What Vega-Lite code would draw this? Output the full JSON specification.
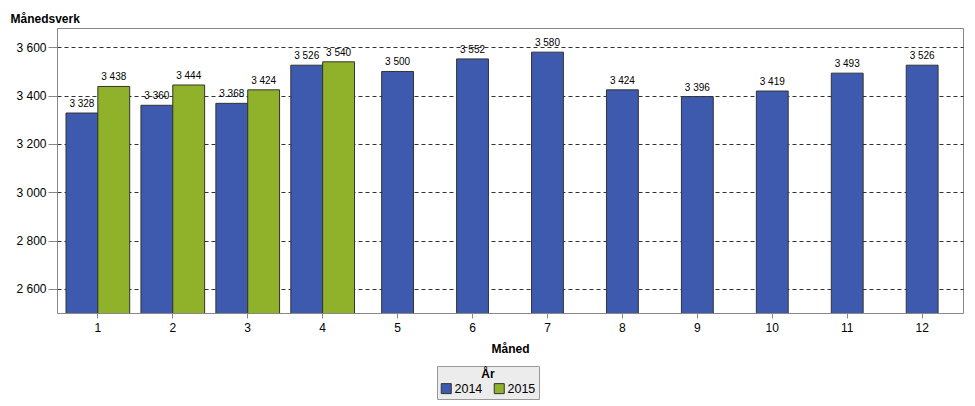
{
  "$schema": "https://vega.github.io/schema/vega-lite/v6.json",
  "autosize": "none",
  "width": 906,
  "height": 285,
  "padding": {"left": 57, "top": 28, "right": 12, "bottom": 93},
  "background": "white",
  "data": {
    "values": [
      {"month": 1, "year": "2014", "value": 3328},
      {"month": 2, "year": "2014", "value": 3360},
      {"month": 3, "year": "2014", "value": 3368},
      {"month": 4, "year": "2014", "value": 3526},
      {"month": 5, "year": "2014", "value": 3500},
      {"month": 6, "year": "2014", "value": 3552},
      {"month": 7, "year": "2014", "value": 3580},
      {"month": 8, "year": "2014", "value": 3424},
      {"month": 9, "year": "2014", "value": 3396},
      {"month": 10, "year": "2014", "value": 3419},
      {"month": 11, "year": "2014", "value": 3493},
      {"month": 12, "year": "2014", "value": 3526},
      {"month": 1, "year": "2015", "value": 3438},
      {"month": 2, "year": "2015", "value": 3444},
      {"month": 3, "year": "2015", "value": 3424},
      {"month": 4, "year": "2015", "value": 3540}
    ]
  },
  "encoding": {
    "x": {
      "field": "month", "type": "ordinal",
      "scale": {"paddingInner": 0.15, "paddingOuter": 0.12},
      "axis": {"title": "Måned", "labelAngle": 0, "domain": false, "tickSize": 5, "tickColor": "#888", "labelPadding": 4, "labelFontSize": 12, "labelColor": "#000", "titleFontSize": 12, "titleFontWeight": "bold", "titlePadding": 10, "titleColor": "#000"}
    },
    "y": {
      "field": "value", "type": "quantitative",
      "scale": {"domain": [2500, 3680], "nice": false, "zero": false},
      "axis": {
        "title": "Månedsverk", "titleAngle": 0, "titleAlign": "left", "titleBaseline": "alphabetic",
        "titleX": -47, "titleY": -6, "titleFontSize": 12, "titleFontWeight": "bold", "titleColor": "#000",
        "values": [2600, 2800, 3000, 3200, 3400, 3600], "format": ",d",
        "domain": false, "tickSize": 9, "tickColor": "#888", "labelPadding": 2, "labelFontSize": 12, "labelColor": "#000",
        "grid": true, "gridColor": "#333", "gridDash": [4, 3], "gridWidth": 1
      }
    }
  },
  "layer": [
    {
      "transform": [{"filter": "datum.month <= 4"}],
      "mark": {"type": "bar", "stroke": "#333", "strokeWidth": 1, "clip": true},
      "encoding": {
        "xOffset": {"field": "year", "type": "nominal", "scale": {"domain": ["2014", "2015"], "paddingInner": 0, "paddingOuter": 0}},
        "color": {"field": "year", "type": "nominal", "title": "År",
          "scale": {"domain": ["2014", "2015"], "range": ["#3D5AAE", "#8FB22A"]},
          "legend": {"orient": "none", "legendX": 380, "legendY": 338, "direction": "horizontal", "titleOrient": "top", "titleAnchor": "middle",
            "padding": 3, "fillColor": "#ECECEC", "strokeColor": "#999", "symbolType": "square", "symbolSize": 100, "symbolStrokeColor": "#333", "symbolStrokeWidth": 1,
            "labelFontSize": 12.5, "labelColor": "#000", "titleFontSize": 12, "titleFontWeight": "bold", "titleColor": "#000", "columnPadding": 9, "labelOffset": 2, "titlePadding": 1}
        }
      }
    },
    {
      "transform": [{"filter": "datum.month > 4"}],
      "mark": {"type": "bar", "stroke": "#333", "strokeWidth": 1, "clip": true, "width": {"band": 0.5}},
      "encoding": {
        "color": {"field": "year", "type": "nominal", "title": "År", "scale": {"domain": ["2014", "2015"], "range": ["#3D5AAE", "#8FB22A"]}}
      }
    },
    {
      "transform": [{"filter": "datum.month <= 4"}],
      "mark": {"type": "text", "baseline": "bottom", "dy": -4, "fontSize": 10, "color": "#000"},
      "encoding": {
        "xOffset": {"field": "year", "type": "nominal"},
        "text": {"field": "value", "type": "quantitative", "format": ",d"}
      }
    },
    {
      "transform": [{"filter": "datum.month > 4"}],
      "mark": {"type": "text", "baseline": "bottom", "dy": -4, "fontSize": 10, "color": "#000"},
      "encoding": {
        "text": {"field": "value", "type": "quantitative", "format": ",d"}
      }
    }
  ],
  "config": {
    "font": "Liberation Sans",
    "locale": {"number": {"decimal": ",", "thousands": " ", "grouping": [3], "currency": ["", " kr"]}},
    "view": {"stroke": "#888", "strokeWidth": 1}
  }
}
